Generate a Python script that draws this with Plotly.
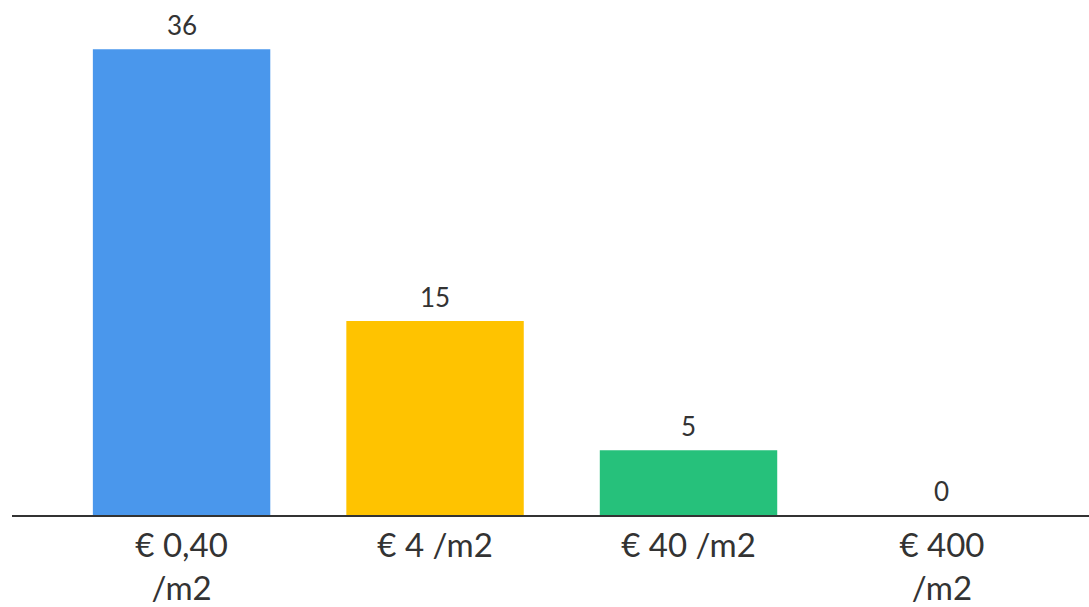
import plotly.graph_objects as go

categories = ["€ 0,40<br>/m2", "€ 4 /m2", "€ 40 /m2", "€ 400<br>/m2"]
values = [36, 15, 5, 0]
colors = ["#4A97EC", "#FFC300", "#26C17B", "#8E8E8E"]

fig = go.Figure()
fig.add_trace(go.Bar(
    x=categories, y=values,
    marker=dict(color=colors, line=dict(width=0)),
    width=0.7,
    hoverinfo="skip",
))

for c, v in zip(categories, values):
    fig.add_annotation(
        x=c, y=v, text=str(v), showarrow=False,
        yanchor="bottom", yshift=6,
        font=dict(family="Lato, sans-serif", size=26, color="#333333"),
    )

fig.update_layout(
    width=1089, height=607,
    margin=dict(l=12, r=0, t=0, b=92),
    paper_bgcolor="white", plot_bgcolor="white",
    showlegend=False,
    xaxis=dict(
        range=[-0.669, 3.58],
        showline=True, linecolor="#333333", linewidth=2,
        showgrid=False, zeroline=False, ticks="",
        tickfont=dict(family="Lato, sans-serif", size=33, color="#333333"),
    ),
    yaxis=dict(
        range=[0, 39.8], visible=False, showgrid=False, zeroline=False,
    ),
)

fig.write_html("out.html")
